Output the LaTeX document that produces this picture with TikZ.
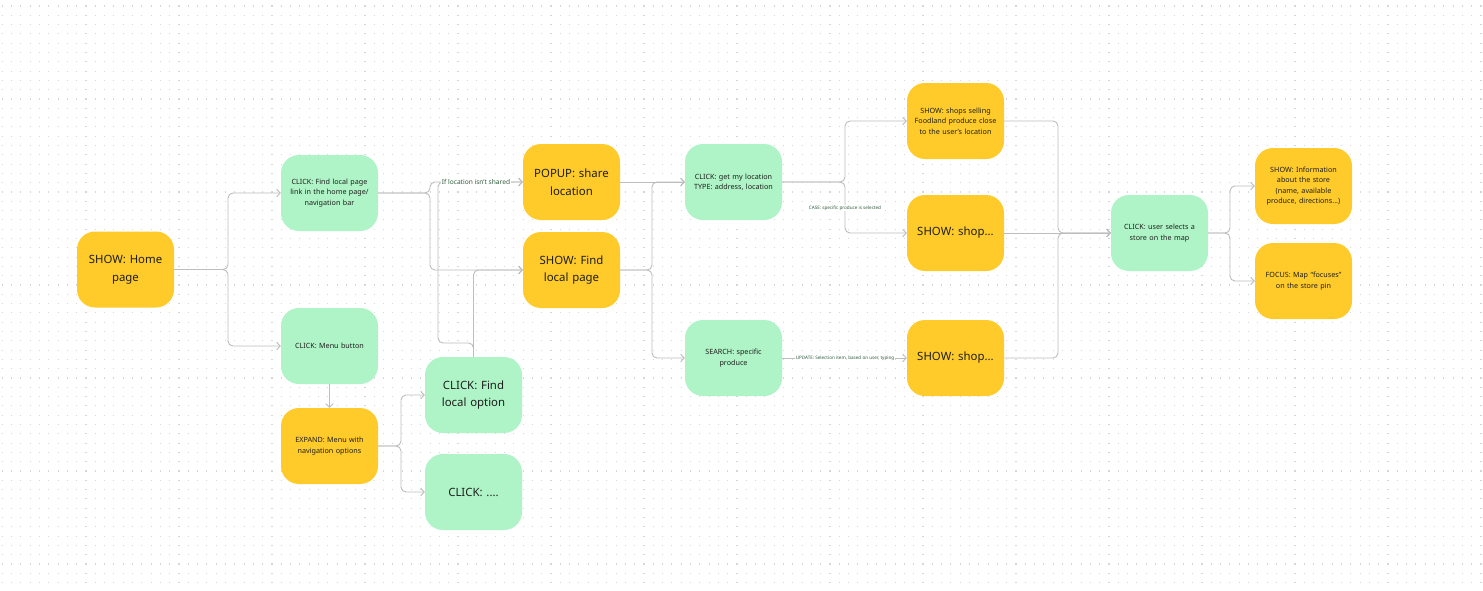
\documentclass[tikz,border=0pt]{standalone}
\usepackage{fontspec}
\setmainfont{Noto Sans}
\usetikzlibrary{arrows.meta}
\definecolor{ylw}{HTML}{FFCB2B}
\definecolor{grn}{HTML}{AFF4C6}
\definecolor{txt}{HTML}{1E1E1E}
\definecolor{conn}{HTML}{BDBDBD}
\definecolor{lbl}{HTML}{2E5C3D}
\definecolor{dotc}{HTML}{D6D6D6}
\begin{document}
\begin{tikzpicture}[x=1pt,y=-1pt,
  box/.style={rounded corners=18pt, minimum width=97pt, minimum height=76pt, inner sep=0pt, text width=90pt, align=center, text=txt},
  ybox/.style={box, fill=ylw},
  gbox/.style={box, fill=grn},
  big/.style={font=\fontsize{11.4}{17.5}\selectfont},
  small/.style={font=\fontsize{7.2}{10.5}\selectfont},
  link/.style={draw=conn, line width=0.9pt, rounded corners=5pt, -{Straight Barb[length=3.5pt,width=7.5pt]}},
  lab/.style={fill=white, inner sep=1pt, text=lbl},
  dotline/.style={draw=dotc, line width=1.1pt, dash pattern=on 1.1pt off 8.2pt},
]
\useasboundingbox[fill=white] (0,0) rectangle (1483,590);
\foreach \i in {0,...,63} {
  \draw[dotline] (1.7,{6+9.3*\i}) -- (1483,{6+9.3*\i});
}
% nodes
\node[ybox,big] (home) at (125.5,269.5) {SHOW: Home\\page};
\node[gbox,small] (cf) at (329.5,193) {CLICK: Find local page\\link in the home page/\\navigation bar};
\node[gbox,small] (mb) at (329.5,346) {CLICK: Menu button};
\node[ybox,small] (ex) at (329.5,446) {EXPAND: Menu with\\navigation options};
\node[gbox,big] (fo) at (473.5,395) {CLICK: Find\\local option};
\node[gbox,big] (cd) at (473.5,492) {CLICK: ....};
\node[ybox,big] (pop) at (571.5,182) {POPUP: share\\location};
\node[ybox,big] (sf) at (571.5,270) {SHOW: Find\\local page};
\node[gbox,small] (gl) at (733.5,182) {CLICK: get my location\\TYPE: address, location};
\node[gbox,small] (se) at (733.5,358) {SEARCH: specific\\produce};
\node[ybox,small] (ss) at (955.5,121) {SHOW: shops selling\\Foodland produce close\\to the user's location};
\node[ybox,big] (sh1) at (955.5,233) {SHOW: shop...};
\node[ybox,big] (sh2) at (955.5,358) {SHOW: shop...};
\node[gbox,small] (cu) at (1159.5,233) {CLICK: user selects a\\store on the map};
\node[ybox,small] (inf) at (1303.5,186) {SHOW: Information\\about the store\\(name, available\\produce, directions...)};
\node[ybox,small] (foc) at (1303.5,281) {FOCUS: Map “focuses”\\on the store pin};
% connectors
\draw[link] (home.east) -- (228,269.5) |- (cf.west);
\draw[link] (home.east) -- (228,269.5) |- (mb.west);
\draw[link] (mb.south) -- (ex.north);
\draw[link] (ex.east) -- (401,446) |- (fo.west);
\draw[link] (ex.east) -- (401,446) |- (cd.west);
\draw[link] (cf.east) -- (430,193) |- (pop.west);
\draw[link] (cf.east) -- (430,193) |- (sf.west);
\draw[link] (fo.north) |- (sf.west);
\draw[link] (fo.north) -- (473.5,343) -| (438,182) -- (pop.west);
\draw[link] (pop.east) -- (gl.west);
\draw[link] (sf.east) -- (652,270) |- (gl.west);
\draw[link] (sf.east) -- (652,270) |- (se.west);
\draw[link] (gl.east) -- (845,182) |- (ss.west);
\draw[link] (gl.east) -- (845,182) |- (sh1.west);
\draw[link] (se.east) -- (sh2.west);
\draw[link] (ss.east) -- (1058,121) |- (cu.west);
\draw[link] (sh1.east) -- (cu.west);
\draw[link] (sh2.east) -- (1058,358) |- (cu.west);
\draw[link] (cu.east) -- (1230,233) |- (inf.west);
\draw[link] (cu.east) -- (1230,233) |- (foc.west);
% labels
\node[lab,font=\fontsize{6.6}{7}\selectfont] (l1) at (476,182) {If location isn't shared};
\node[lab,font=\fontsize{4.6}{5}\selectfont] (l2) at (845,208) {CASE: specific produce is selected};
\node[lab,font=\fontsize{4.6}{5}\selectfont] (l3) at (845,358) {UPDATE: Selection item, based on user, typing};
\end{tikzpicture}
\end{document}
